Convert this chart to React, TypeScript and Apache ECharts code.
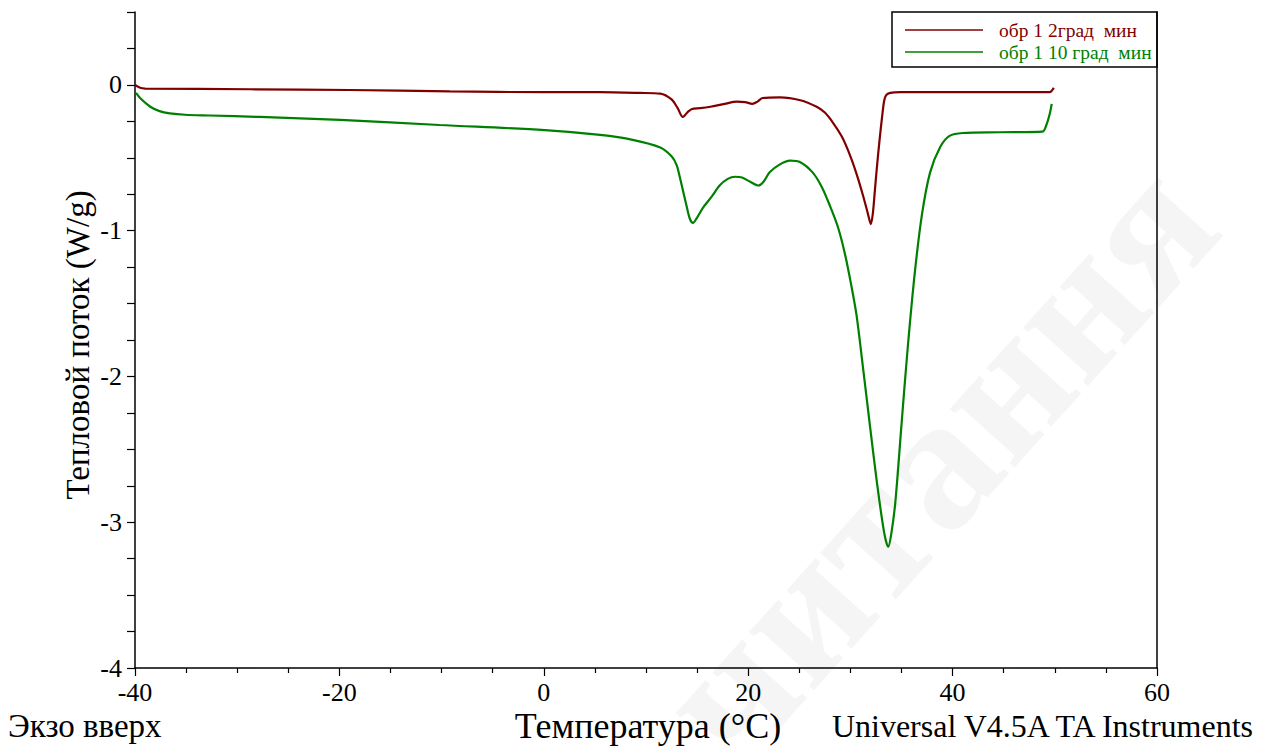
import React, { useEffect, useRef } from 'react';
import * as echarts from 'echarts';

// ---- data ----
const seriesNames = ['обр 1 2град  мин', 'обр 1 10 град  мин'];
const seriesColors = ['#800000', '#008000'];

const temp2 = [-40.0, -39.5, -39.0, -28.7, -19.0, -9.2, 0.1, 5.5, 9.4, 11.4, 12.5, 13.1, 13.6, 14.1, 14.5, 15.3, 16.3, 17.7, 18.9, 19.7, 20.4, 20.9, 21.4, 23.1, 25.1, 26.7, 27.5, 28.3, 29.2, 30.0, 30.6, 31.2, 31.7, 32.0, 32.2, 32.4, 32.6, 32.85, 33.1, 33.3, 33.5, 33.9, 34.9, 44.6, 49.5, 49.9];
const flow2 = [0.0, -0.02, -0.025, -0.03, -0.035, -0.045, -0.05, -0.05, -0.055, -0.06, -0.10, -0.16, -0.22, -0.185, -0.165, -0.16, -0.15, -0.13, -0.115, -0.118, -0.13, -0.115, -0.09, -0.085, -0.105, -0.15, -0.19, -0.26, -0.36, -0.49, -0.61, -0.75, -0.88, -0.955, -0.88, -0.72, -0.56, -0.38, -0.22, -0.11, -0.07, -0.055, -0.05, -0.05, -0.05, -0.02];

const temp10 = [-39.9, -39.5, -38.5, -37.6, -36.6, -35.1, -32.7, -27.8, -19.9, -10.2, 0.1, 5.5, 8.7, 11.4, 12.5, 13.0, 13.3, 13.7, 14.0, 14.3, 14.6, 15.0, 15.6, 16.5, 17.2, 18.0, 18.7, 19.4, 20.2, 21.0, 21.5, 22.1, 23.1, 24.1, 25.1, 26.3, 27.2, 28.0, 28.8, 29.5, 30.1, 30.6, 31.2, 31.9, 32.6, 33.3, 33.7, 34.0, 34.4, 35.0, 35.6, 36.3, 37.0, 37.8, 38.8, 39.7, 41.0, 44.6, 48.8, 49.2, 49.5, 49.7];
const flow10 = [-0.055, -0.09, -0.15, -0.18, -0.195, -0.205, -0.21, -0.22, -0.24, -0.275, -0.31, -0.343, -0.377, -0.43, -0.49, -0.55, -0.63, -0.75, -0.84, -0.92, -0.947, -0.91, -0.84, -0.76, -0.69, -0.645, -0.63, -0.635, -0.665, -0.69, -0.665, -0.60, -0.545, -0.52, -0.53, -0.60, -0.70, -0.83, -0.98, -1.17, -1.38, -1.58, -1.92, -2.33, -2.73, -3.07, -3.17, -3.08, -2.86, -2.33, -1.81, -1.29, -0.89, -0.60, -0.425, -0.35, -0.33, -0.325, -0.32, -0.27, -0.20, -0.13];

const xTitle = 'Температура (°C)';
const yTitle = 'Тепловой поток (W/g)';
const leftNote = 'Экзо вверх';
const rightNote = 'Universal V4.5A TA Instruments';
const watermark = 'читання';

const FONT = 'Liberation Serif, serif';

export default function App() {
  const ref = useRef<HTMLDivElement>(null);
  useEffect(() => {
    if (!ref.current) return;
    const chart = echarts.init(ref.current, undefined, { renderer: 'svg' });
    const d2 = temp2.map((t, i) => [t, flow2[i]]);
    const d10 = temp10.map((t, i) => [t, flow10[i]]);
    const axisLine = { show: true, onZero: false, lineStyle: { color: '#000', width: 1.5 } };
    chart.setOption({
      animation: false,
      backgroundColor: '#fff',
      grid: { left: 135, right: 124, top: 12, bottom: 80, containLabel: false },
      xAxis: {
        type: 'value', min: -40, max: 60, interval: 20,
        axisLine,
        axisTick: { show: true, inside: false, length: 8, lineStyle: { color: '#000', width: 1.2 } },
        minorTick: { show: true, splitNumber: 4, length: 5, lineStyle: { color: '#000', width: 1.2 } },
        splitLine: { show: false },
        axisLabel: { color: '#000', fontFamily: FONT, fontSize: 26, margin: 11 },
      },
      yAxis: [
        {
          type: 'value', min: -4, max: 0.5, interval: 0.25,
          axisLine,
          axisTick: { show: true, inside: false, length: 8, lineStyle: { color: '#000', width: 1.2 } },
          splitLine: { show: false },
          axisLabel: {
            color: '#000', fontFamily: FONT, fontSize: 26, margin: 13,
            formatter: (v: number) => (Number.isInteger(v) ? String(v) : ''),
          },
        },
        {
          type: 'value', min: -4, max: 0.5, position: 'right',
          axisLine, axisTick: { show: false }, axisLabel: { show: false }, splitLine: { show: false },
        },
      ],
      legend: {
        orient: 'vertical', left: 900, top: 15, itemGap: 2,
        itemWidth: 78, itemHeight: 1.5, icon: 'rect',
        textStyle: { fontFamily: FONT, fontSize: 19.5, padding: [0, 0, 0, 11] },
        data: seriesNames.map((n, i) => ({ name: n, textStyle: { color: seriesColors[i] } })),
      },
      graphic: [
        {
          type: 'text', z: -10, x: 935, y: 460, rotation: (48 * Math.PI) / 180,
          style: { text: watermark, fill: '#f5f5f5', font: `bold 190px ${FONT}`, align: 'center', verticalAlign: 'middle' },
        },
        {
          type: 'rect', z: 5, shape: { x: 892, y: 12, width: 265, height: 55 },
          style: { fill: 'none', stroke: '#000', lineWidth: 1.5 },
        },
        {
          type: 'text', x: 78, y: 345, rotation: Math.PI / 2,
          style: { text: yTitle, fill: '#000', font: `33px ${FONT}`, align: 'center', verticalAlign: 'middle' },
        },
        {
          type: 'text', x: 8, y: 726,
          style: { text: leftNote, fill: '#000', font: `33px ${FONT}`, align: 'left', verticalAlign: 'middle' },
        },
        {
          type: 'text', x: 648, y: 726,
          style: { text: xTitle, fill: '#000', font: `36px ${FONT}`, align: 'center', verticalAlign: 'middle' },
        },
        {
          type: 'text', x: 1253, y: 726,
          style: { text: rightNote, fill: '#000', font: `32px ${FONT}`, align: 'right', verticalAlign: 'middle' },
        },
      ],
      series: [
        {
          name: seriesNames[0], type: 'line', data: d2, showSymbol: false, smooth: 0.3,
          lineStyle: { color: seriesColors[0], width: 2.2 }, itemStyle: { color: seriesColors[0] },
        },
        {
          name: seriesNames[1], type: 'line', data: d10, showSymbol: false, smooth: 0.3,
          lineStyle: { color: seriesColors[1], width: 2.2 }, itemStyle: { color: seriesColors[1] },
        },
      ],
    });
    return () => chart.dispose();
  }, []);
  return <div ref={ref} style={{ position: 'fixed', left: 0, top: 0, width: 1281, height: 748 }} />;
}
